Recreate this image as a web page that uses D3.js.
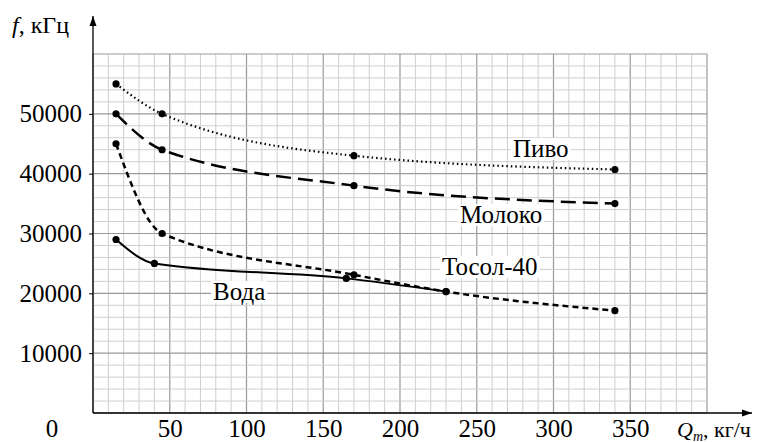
<!DOCTYPE html>
<html>

<head>
  <script src="https://d3js.org/d3.v7.min.js"></script>
</head>

<body style="margin:0">
  <svg width="766" height="442"></svg>
</body>
<script>

  // values
  var xTicks = [50, 100, 150, 200, 250, 300, 350];
  var yTicks = [10000, 20000, 30000, 40000, 50000];

  var qPivo = [15, 45, 170, 340];
  var fPivo = [55000, 50000, 43000, 40700];

  var qMoloko = [15, 45, 170, 340];
  var fMoloko = [50000, 44000, 38000, 35000];

  var qTosol = [15, 45, 170, 230, 340];
  var fTosol = [45000, 30000, 23100, 20300, 17100];

  var qVoda = [15, 40, 165, 230];
  var fVoda = [29000, 25000, 22500, 20300];

  var series = [
    { name: "Пиво", q: qPivo, f: fPivo, dash: "1.5,3", width: 2.2, lx: 513, ly: 157 },
    { name: "Молоко", q: qMoloko, f: fMoloko, dash: "15,7", width: 2.5, lx: 460, ly: 223 },
    { name: "Тосол-40", q: qTosol, f: fTosol, dash: "6,4", width: 2.5, lx: 442, ly: 275 },
    { name: "Вода", q: qVoda, f: fVoda, dash: null, width: 2, lx: 213, ly: 300 }
  ];

  var serif = "'Liberation Serif', serif";

  var svg = d3.select("svg");
  var x = d3.scaleLinear().domain([0, 400]).range([93, 707]);
  var y = d3.scaleLinear().domain([0, 60000]).range([413, 54]);

  // grid
  var grid = svg.append("g");
  grid.selectAll(".vx").data(d3.range(0, 401, 10)).enter().append("line")
    .attr("x1", function (d) { return x(d); }).attr("x2", function (d) { return x(d); })
    .attr("y1", y(0)).attr("y2", y(60000))
    .attr("stroke", function (d) { return d % 50 === 0 ? "#9a9a9a" : "#cfcfcf"; })
    .attr("stroke-width", function (d) { return d % 50 === 0 ? 1.2 : 1; });
  grid.selectAll(".hy").data(d3.range(0, 60001, 2000)).enter().append("line")
    .attr("y1", function (d) { return y(d); }).attr("y2", function (d) { return y(d); })
    .attr("x1", x(0)).attr("x2", x(400))
    .attr("stroke", function (d) { return d % 10000 === 0 ? "#9a9a9a" : "#cfcfcf"; })
    .attr("stroke-width", function (d) { return d % 10000 === 0 ? 1.2 : 1; });

  // axes with arrows
  svg.append("defs").append("marker")
    .attr("id", "arr").attr("viewBox", "0 0 10 10").attr("refX", 10).attr("refY", 5)
    .attr("markerWidth", 8).attr("markerHeight", 8).attr("orient", "auto-start-reverse")
    .append("path").attr("d", "M0,1.5L10,5L0,8.5z").attr("fill", "#000");

  svg.append("line").attr("x1", x(0)).attr("x2", x(0)).attr("y1", y(0)).attr("y2", 16)
    .attr("stroke", "#000").attr("stroke-width", 1.3).attr("marker-end", "url(#arr)");
  svg.append("line").attr("x1", x(0)).attr("x2", 752).attr("y1", y(0)).attr("y2", y(0))
    .attr("stroke", "#000").attr("stroke-width", 1.3).attr("marker-end", "url(#arr)");

  var yAxis = svg.append("g").attr("transform", "translate(" + x(0) + ",0)")
    .call(d3.axisLeft(y).tickValues(yTicks).tickSize(4).tickPadding(7).tickFormat(d3.format("d")));
  var xAxis = svg.append("g").attr("transform", "translate(0," + y(0) + ")")
    .call(d3.axisBottom(x).tickValues(xTicks).tickSize(0).tickPadding(10));
  [yAxis, xAxis].forEach(function (a) {
    a.attr("font-family", serif).attr("font-size", 25);
    a.select(".domain").remove();
    a.selectAll("text").style("font-family", serif).attr("font-size", 25).attr("fill", "#000");
  });
  xAxis.selectAll("text").attr("dy", "0.71em").attr("y", 6);

  svg.append("text").attr("x", 52).attr("y", 437).attr("text-anchor", "middle")
    .style("font-family", serif).attr("font-size", 25).text("0");

  // axis titles
  var ft = svg.append("text").attr("x", 12).attr("y", 33)
    .style("font-family", serif).attr("font-size", 24);
  ft.append("tspan").attr("font-style", "italic").text("f");
  ft.append("tspan").text(", кГц");

  var qt = svg.append("text").attr("x", 677).attr("y", 437)
    .style("font-family", serif).attr("font-size", 22);
  qt.append("tspan").attr("font-style", "italic").text("Q");
  qt.append("tspan").attr("font-style", "italic").attr("font-size", 14).attr("dy", 4).text("m");
  qt.append("tspan").attr("dy", -4).text(", кг/ч");

  // curves
  var line = d3.line()
    .x(function (d) { return x(d[0]); })
    .y(function (d) { return y(d[1]); })
    .curve(d3.curveMonotoneX);

  series.forEach(function (s) {
    var pts = s.q.map(function (q, i) { return [q, s.f[i]]; });
    svg.append("path").datum(pts).attr("d", line)
      .attr("fill", "none").attr("stroke", "#000")
      .attr("stroke-width", s.width)
      .attr("stroke-dasharray", s.dash);
    svg.selectAll(null).data(pts).enter().append("circle")
      .attr("cx", function (d) { return x(d[0]); })
      .attr("cy", function (d) { return y(d[1]); })
      .attr("r", 3.6).attr("fill", "#000");
  });

  series.forEach(function (s) {
    var t = svg.append("text").attr("x", s.lx).attr("y", s.ly)
      .style("font-family", serif).attr("font-size", 25).text(s.name);
    var b = t.node().getBBox();
    svg.insert("rect", function () { return t.node(); })
      .attr("x", b.x - 2).attr("y", b.y + 3).attr("width", b.width + 4).attr("height", b.height - 5)
      .attr("fill", "#fff");
  });

</script>

</html>
